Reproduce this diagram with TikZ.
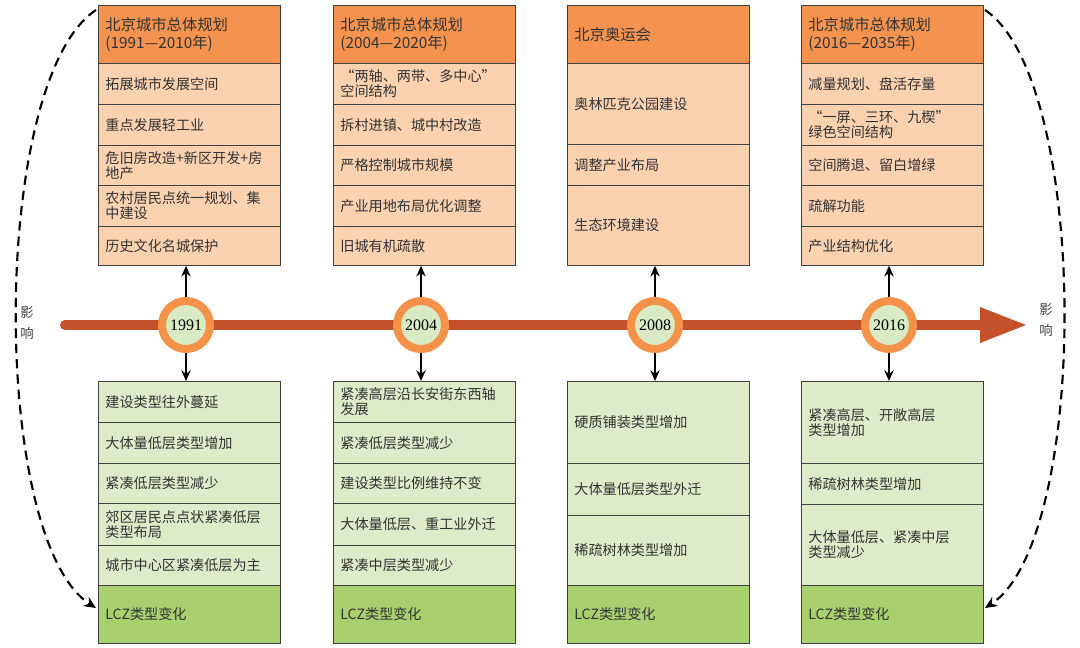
\documentclass[tikz,border=0pt]{standalone}
\usepackage{fontspec}
\setmainfont{Liberation Serif}
\newfontfamily\cjk{Noto Sans CJK SC}
\usetikzlibrary{arrows.meta}
\definecolor{hdr}{HTML}{F4934F}
\definecolor{rowo}{HTML}{FBD2B0}
\definecolor{rowg}{HTML}{DEEBC9}
\definecolor{lcz}{HTML}{A9D06F}
\definecolor{tl}{HTML}{C4512A}
\definecolor{ring}{HTML}{F4924A}
\definecolor{inner}{HTML}{D8EBC4}
\tikzset{
 cell/.style={draw=black!75,line width=0.6pt,anchor=north west,minimum width=136.5pt,text width=126pt,inner xsep=5pt,align=left,font=\cjk\fontsize{10.6}{11}\selectfont,text=black!80},
 hcell/.style={cell,fill=hdr,font=\cjk\fontsize{11.5}{13}\selectfont},
 ocell/.style={cell,fill=rowo},
 gcell/.style={cell,fill=rowg},
 lcell/.style={cell,fill=lcz},
 yr/.style={circle,draw=ring,line width=6pt,fill=inner,minimum size=36pt,inner sep=0pt,font=\fontsize{12}{13}\selectfont},
 varr/.style={-{Stealth[length=8pt,width=7pt]},line width=1.8pt},
 darr/.style={dash pattern=on 7pt off 4.5pt,line width=1.6pt,-{Stealth[length=9pt,width=8pt]}},
}
\newcommand\cellbox[6]{\node[#1,minimum height={(#5-#4)*0.75pt}] (#2) at (#3*0.75pt,-#4*0.75pt) {#6};}
\begin{document}
\begin{tikzpicture}[x=0.75pt,y=-0.75pt]
\useasboundingbox (0,0) rectangle (1080,648);
\coordinate (ts) at (65,325);
\coordinate (te) at (985,325);
\draw[tl,line width=7.5pt,line cap=round] (ts) -- (te);
\fill[tl] (980,307) -- (1026,325) -- (980,343) -- cycle;
\cellbox{hcell}{a0}{98}{5}{63}{北京城市总体规划\\(1991—2010年)}
\cellbox{ocell}{a1}{98}{63}{104}{拓展城市发展空间}
\cellbox{ocell}{a2}{98}{104}{145}{重点发展轻工业}
\cellbox{ocell}{a3}{98}{145}{185}{危旧房改造+新区开发+房\\地产}
\cellbox{ocell}{a4}{98}{185}{226}{农村居民点统一规划、集\\中建设}
\cellbox{ocell}{a5}{98}{226}{265}{历史文化名城保护}
\cellbox{hcell}{b0}{333}{5}{63}{北京城市总体规划\\(2004—2020年)}
\cellbox{ocell}{b1}{333}{63}{104}{“两轴、两带、多中心”\\空间结构}
\cellbox{ocell}{b2}{333}{104}{145}{拆村进镇、城中村改造}
\cellbox{ocell}{b3}{333}{145}{185}{严格控制城市规模}
\cellbox{ocell}{b4}{333}{185}{226}{产业用地布局优化调整}
\cellbox{ocell}{b5}{333}{226}{265}{旧城有机疏散}
\cellbox{hcell}{c0}{567}{5}{63}{北京奥运会}
\cellbox{ocell}{c1}{567}{63}{144}{奥林匹克公园建设}
\cellbox{ocell}{c2}{567}{144}{185}{调整产业布局}
\cellbox{ocell}{c3}{567}{185}{265}{生态环境建设}
\cellbox{hcell}{d0}{801}{5}{63}{北京城市总体规划\\(2016—2035年)}
\cellbox{ocell}{d1}{801}{63}{104}{减量规划、盘活存量}
\cellbox{ocell}{d2}{801}{104}{145}{“一屏、三环、九楔”\\绿色空间结构}
\cellbox{ocell}{d3}{801}{145}{185}{空间腾退、留白增绿}
\cellbox{ocell}{d4}{801}{185}{226}{疏解功能}
\cellbox{ocell}{d5}{801}{226}{265}{产业结构优化}
\cellbox{gcell}{e1}{98}{381}{422}{建设类型往外蔓延}
\cellbox{gcell}{e2}{98}{422}{463}{大体量低层类型增加}
\cellbox{gcell}{e3}{98}{463}{503}{紧凑低层类型减少}
\cellbox{gcell}{e4}{98}{503}{545}{郊区居民点点状紧凑低层\\类型布局}
\cellbox{gcell}{e5}{98}{545}{585}{城市中心区紧凑低层为主}
\cellbox{lcell}{e6}{98}{585}{643}{LCZ类型变化}
\cellbox{gcell}{f1}{333}{381}{422}{紧凑高层沿长安街东西轴\\发展}
\cellbox{gcell}{f2}{333}{422}{463}{紧凑低层类型减少}
\cellbox{gcell}{f3}{333}{463}{503}{建设类型比例维持不变}
\cellbox{gcell}{f4}{333}{503}{545}{大体量低层、重工业外迁}
\cellbox{gcell}{f5}{333}{545}{585}{紧凑中层类型减少}
\cellbox{lcell}{f6}{333}{585}{643}{LCZ类型变化}
\cellbox{gcell}{g1}{567}{381}{463}{硬质铺装类型增加}
\cellbox{gcell}{g2}{567}{463}{515}{大体量低层类型外迁}
\cellbox{gcell}{g3}{567}{515}{585}{稀疏树林类型增加}
\cellbox{lcell}{g6}{567}{585}{643}{LCZ类型变化}
\cellbox{gcell}{h1}{801}{381}{463}{紧凑高层、开敞高层\\类型增加}
\cellbox{gcell}{h2}{801}{463}{504}{稀疏树林类型增加}
\cellbox{gcell}{h3}{801}{504}{585}{大体量低层、紧凑中层\\类型减少}
\cellbox{lcell}{h6}{801}{585}{643}{LCZ类型变化}
\node[yr] (y1) at (186,325) {1991};
\node[yr] (y2) at (421,325) {2004};
\node[yr] (y3) at (655,325) {2008};
\node[yr] (y4) at (889,325) {2016};
\foreach \y/\t/\b in {y1/a5/e1,y2/b5/f1,y3/c3/g1,y4/d5/h1}{
  \draw[varr] (\y.north) -- (\y.north |- \t.south);
  \draw[varr] (\y.south) -- (\y.south |- \b.north);
}
\coordinate (l1) at (96,10);
\coordinate (l2) at (96,608);
\coordinate (r1) at (985,10);
\coordinate (r2) at (985,608);
\draw[darr] (l1) .. controls (-10,80) and (-10,540) .. (l2);
\draw[darr] (r1) .. controls (1090,80) and (1090,540) .. (r2);
\node[font=\cjk\fontsize{10}{16}\selectfont,align=center,text=black!75] (inl) at (27,323) {影\\响};
\node[font=\cjk\fontsize{10}{16}\selectfont,align=center,text=black!75] (inr) at (1046,320) {影\\响};
\end{tikzpicture}
\end{document}
